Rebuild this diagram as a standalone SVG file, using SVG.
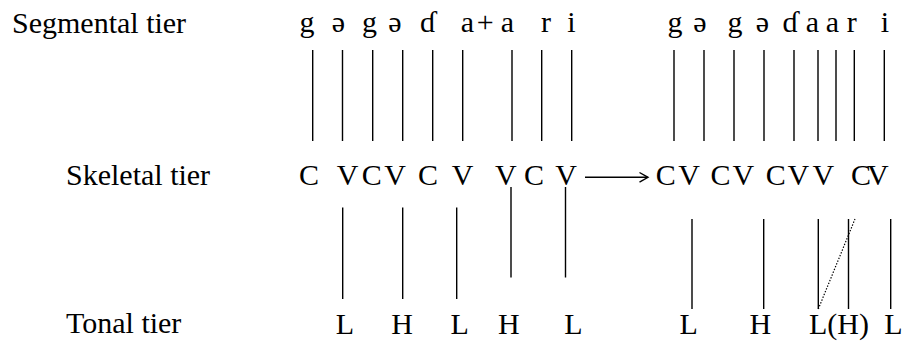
<svg xmlns="http://www.w3.org/2000/svg" width="905" height="342" viewBox="0 0 905 342">
  <style>
    text { font-family: "Liberation Serif", "DejaVu Serif", serif; font-size: 30px; fill: #000; }
    .m { text-anchor: middle; }
    .ln { stroke: #000; stroke-width: 1.4; fill: none; }
    .dot { stroke: #000; stroke-width: 1.2; stroke-dasharray: 1.4 1.6; fill: none; }
  </style>

  <!-- tier labels -->
  <g id="label-segmental"><text x="12" y="33">Segmental tier</text></g>
  <g id="label-skeletal"><text x="66" y="185">Skeletal tier</text></g>
  <g id="label-tonal"><text x="66" y="333">Tonal tier</text></g>

  <!-- segmental tier, underlying form -->
  <g id="segments-before">
    <text class="m" x="307" y="32">g</text>
    <text class="m" x="338.3" y="32">ə</text>
    <text class="m" x="369.5" y="32">g</text>
    <text class="m" x="395" y="32">ə</text>
    <text class="m" x="427.5" y="32">ɗ</text>
    <text class="m" x="467.5" y="32">a</text>
    <text class="m" x="485.3" y="32">+</text>
    <text class="m" x="507.5" y="32">a</text>
    <text class="m" x="546" y="32">r</text>
    <text class="m" x="571.5" y="32">i</text>
  </g>

  <!-- segmental tier, derived form -->
  <g id="segments-after">
    <text class="m" x="675" y="32">g</text>
    <text class="m" x="700" y="32">ə</text>
    <text class="m" x="735" y="32">g</text>
    <text class="m" x="762.5" y="32">ə</text>
    <text class="m" x="790" y="32">ɗ</text>
    <text class="m" x="812.5" y="32">a</text>
    <text class="m" x="832.5" y="32">a</text>
    <text class="m" x="851.7" y="32">r</text>
    <text class="m" x="885" y="32">i</text>
  </g>

  <!-- skeletal tier, underlying form -->
  <g id="skeleton-before">
    <text class="m" x="309" y="185">C</text>
    <text class="m" x="347.5" y="185">V</text>
    <text class="m" x="371.7" y="185">C</text>
    <text class="m" x="395" y="185">V</text>
    <text class="m" x="428" y="185">C</text>
    <text class="m" x="462.5" y="185">V</text>
    <text class="m" x="505.8" y="185">V</text>
    <text class="m" x="534" y="185">C</text>
    <text class="m" x="566" y="185">V</text>
  </g>

  <!-- skeletal tier, derived form -->
  <g id="skeleton-after">
    <text class="m" x="665.8" y="185">C</text>
    <text class="m" x="689" y="185">V</text>
    <text class="m" x="720.5" y="185">C</text>
    <text class="m" x="743.3" y="185">V</text>
    <text class="m" x="775.8" y="185">C</text>
    <text class="m" x="798.3" y="185">V</text>
    <text class="m" x="823.3" y="185">V</text>
    <text x="851" y="185" letter-spacing="-4">CV</text>
  </g>

  <!-- tonal tier, underlying form -->
  <g id="tones-before">
    <text class="m" x="345" y="334">L</text>
    <text class="m" x="402" y="334">H</text>
    <text class="m" x="459.7" y="334">L</text>
    <text class="m" x="508.8" y="334">H</text>
    <text class="m" x="573.3" y="334">L</text>
  </g>

  <!-- tonal tier, derived form -->
  <g id="tones-after">
    <text class="m" x="688.7" y="334">L</text>
    <text class="m" x="760.3" y="334">H</text>
    <text x="809" y="334">L(H)</text>
    <text class="m" x="893.3" y="334">L</text>
  </g>

  <!-- association lines and the derivation arrow -->
  <g id="connectors">
    <!-- segment to skeleton -->
    <path class="ln" d="M312.7 50V141M342.5 50V141M372.7 50V141M402.7 50V141M432.7 50V141M462.7 50V141M512 50V141M541.7 50V141M571.7 50V141"/>
    <path class="ln" d="M674 50V141M704 50V141M734 50V141M764 50V141M794 50V141M818 50V141M836 50V141M854.3 50V141M884.3 50V141"/>
    <!-- skeleton to tone -->
    <path class="ln" d="M342.7 207.5V299M402.7 207.5V299M456.7 207.5V299M511 187V277.5M565.5 187V277.5"/>
    <path class="ln" d="M692 219V309M763.7 219V309M818.3 219V309M848.5 219V309M890.7 219V309"/>
    <path class="dot" d="M818.3 309L855 219"/>
    <!-- derivation arrow -->
    <path class="ln" d="M585 177.3H647.5"/>
    <path class="ln" d="M639.5 172.5L648 177.3L639.5 182.1"/>
  </g>
</svg>
